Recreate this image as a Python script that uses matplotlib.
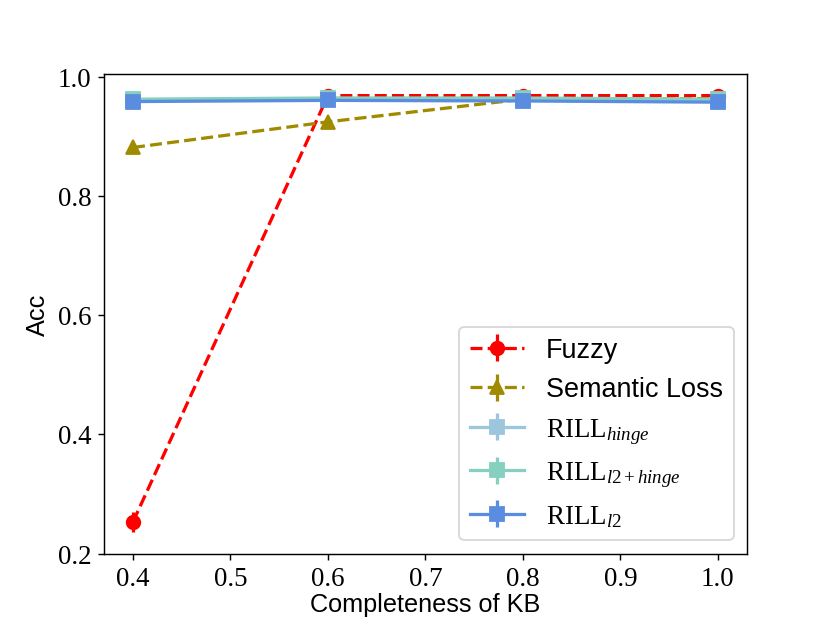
import matplotlib
matplotlib.use("Agg")
import matplotlib.pyplot as plt

plt.rcParams['mathtext.fontset'] = 'custom'
plt.rcParams['mathtext.rm'] = 'Liberation Serif'
plt.rcParams['mathtext.it'] = 'Liberation Serif:italic'
plt.rcParams['font.family'] = ['Liberation Sans', 'DejaVu Sans']

completeness = [0.4, 0.6, 0.8, 1.0]
fuzzy = [0.253, 0.968, 0.968, 0.968]
fuzzy_err = [0.017, 0.003, 0.002, 0.002]
semantic = [0.881, 0.924, 0.962, 0.963]
semantic_err = [0.004, 0.004, 0.002, 0.002]
rill_hinge = [0.961, 0.963, 0.963, 0.961]
rill_hinge_err = [0.002, 0.002, 0.002, 0.002]
rill_l2hinge = [0.962, 0.964, 0.964, 0.962]
rill_l2hinge_err = [0.002, 0.002, 0.002, 0.002]
rill_l2 = [0.958, 0.960, 0.959, 0.957]
rill_l2_err = [0.002, 0.002, 0.002, 0.002]

xticks = [0.4, 0.5, 0.6, 0.7, 0.8, 0.9, 1.0]
yticks = [0.2, 0.4, 0.6, 0.8, 1.0]

fig, ax = plt.subplots(figsize=(6.4, 4.8), dpi=129.7)

common = dict(linewidth=1.8, markersize=7.5)
ax.errorbar(completeness, fuzzy, yerr=fuzzy_err, color='#ff0000', linestyle='--',
            marker='o', label='Fuzzy', **common)
ax.errorbar(completeness, semantic, yerr=semantic_err, color='#a08a00', linestyle='--',
            marker='^', label='Semantic Loss', **common)
ax.errorbar(completeness, rill_hinge, yerr=rill_hinge_err, color='#9cc6dd', linestyle='-',
            marker='s', label=r'$\mathrm{RILL}_{hinge}$', **common)
ax.errorbar(completeness, rill_l2hinge, yerr=rill_l2hinge_err, color='#86d0bf', linestyle='-',
            marker='s', label=r'$\mathrm{RILL}_{l2+hinge}$', **common)
ax.errorbar(completeness, rill_l2, yerr=rill_l2_err, color='#5a8de0', linestyle='-',
            marker='s', label=r'$\mathrm{RILL}_{l2}$', **common)

ax.set_ylim(0.2, 1.004)
ax.set_xticks(xticks)
ax.set_yticks(yticks)
ax.set_xticklabels([f'{v:.1f}' for v in xticks], fontfamily='Liberation Serif', fontsize=15)
ax.set_yticklabels([f'{v:.1f}' for v in yticks], fontfamily='Liberation Serif', fontsize=15)
ax.set_xlabel('Completeness of KB', fontsize=14, labelpad=1)
ax.set_ylabel('Acc', fontsize=14)
ax.legend(loc='lower right', fontsize=15)

fig.savefig('out.png', dpi=129.7)
